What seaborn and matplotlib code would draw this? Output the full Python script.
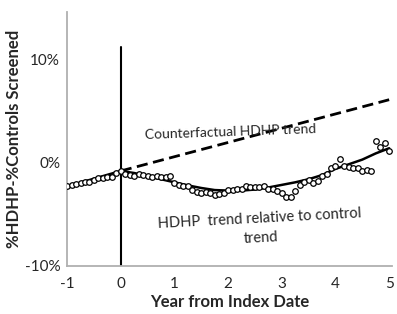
import numpy as np
import pandas as pd
import matplotlib.pyplot as plt
import seaborn as sns

# monthly points, year -1 .. 5
years = [i / 12 for i in range(-12, 61)]
pct_diff = [-2.3, -2.2, -2.1, -2.0, -1.9, -1.85, -1.65, -1.5, -1.45, -1.4, -1.35, -0.95,
            -0.8,
            -1.05, -1.2, -1.3, -1.1, -1.2, -1.3, -1.35, -1.3, -1.4, -1.35, -1.3,
            -2.0, -2.2, -2.3, -2.3, -2.6, -2.8, -2.9, -2.8, -2.95, -3.1, -3.0, -2.9,
            -2.6, -2.6, -2.5, -2.55, -2.3, -2.4, -2.35, -2.4, -2.3, -2.5, -2.5, -2.7,
            -2.9, -3.3, -3.35, -2.7, -2.2, -1.9, -1.7, -2.0, -1.8, -1.3, -1.1, -0.5,
            -0.3, 0.4, -0.3, -0.4, -0.5, -0.55, -0.8, -0.7, -0.8, 2.1, 1.5, 1.9, 1.1]

# smoothed trend
trend_x = [-1.0, -0.5, 0.0, 0.25, 0.5, 0.75, 1.0, 1.25, 1.5, 1.75, 2.0, 2.25, 2.5,
           2.75, 3.0, 3.25, 3.5, 3.75, 4.0, 4.25, 4.5, 4.75, 5.0]
trend_y = [-2.3, -1.55, -0.8, -1.0, -1.3, -1.6, -1.9, -2.2, -2.45, -2.65, -2.7, -2.7, -2.6,
           -2.4, -2.15, -1.9, -1.6, -1.2, -0.6, -0.15, 0.3, 0.9, 1.4]

# counterfactual
cf_x = [0, 5]
cf_y = [-0.8, 6.1]

df = pd.DataFrame({'year': years, 'diff': pct_diff})
tr = pd.DataFrame({'year': trend_x, 'diff': trend_y})
cf = pd.DataFrame({'year': cf_x, 'diff': cf_y})

sns.set_style("white")
plt.rcParams['font.family'] = ['Lato', 'DejaVu Sans']
plt.rcParams['axes.unicode_minus'] = False

fig = plt.figure(figsize=(3.97, 3.14), dpi=100)
ax = fig.add_axes([0.169, 0.153, 0.818, 0.809])

ax.plot([0, 0], [-10, 11.2], color='black', lw=1.5)
sns.lineplot(data=cf, x='year', y='diff', color='black', lw=2, ax=ax)
ax.lines[-1].set_dashes([4, 2])
sns.lineplot(data=tr, x='year', y='diff', color='black', lw=1.8, ax=ax)
sns.scatterplot(data=df, x='year', y='diff', marker='o', s=16, facecolor='white',
                edgecolor='black', linewidth=0.9, ax=ax, zorder=3)

ax.set_xlim(-1, 5.05)
ax.set_ylim(-10, 14.6)
ax.set_xticks([-1, 0, 1, 2, 3, 4, 5])
ax.set_yticks([-10, 0, 10])
ax.set_yticklabels(['-10%', '0%', '10%'])
ax.tick_params(axis='x', length=4, color='#b0b0b0', width=1.2, labelsize=11, pad=4)
ax.tick_params(axis='y', length=0, labelsize=11, pad=5)

for s in ['top', 'right']:
    ax.spines[s].set_visible(False)
for s in ['left', 'bottom']:
    ax.spines[s].set_color('#b0b0b0')
    ax.spines[s].set_linewidth(1.3)

ax.set_xlabel('Year from Index Date', fontsize=12, fontweight='bold', labelpad=2)
ax.set_ylabel('%HDHP-%Controls Screened', fontsize=12, fontweight='bold', labelpad=2)

ax.text(2.05, 3.0, 'Counterfactual HDHP trend', fontsize=10, ha='center', va='center', rotation=2)
ax.text(2.6, -6.4, 'HDHP  trend relative to control\ntrend', fontsize=10.5, ha='center',
        va='center', rotation=3, multialignment='center', linespacing=1.5)

plt.savefig('out.png', dpi=100)
